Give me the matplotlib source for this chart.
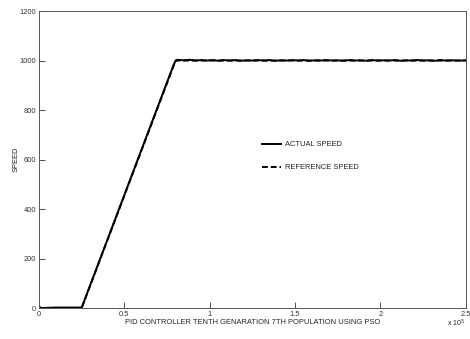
import matplotlib
matplotlib.use("Agg")
import matplotlib.pyplot as plt

# time axis in units of 1e5
ref_t = [0.0, 0.25, 0.80, 2.5]
ref_v = [0.0, 0.0, 1000.0, 1000.0]

act_t = [0.0, 0.005, 0.01, 0.02, 0.10, 0.25, 0.26, 0.79, 0.80, 0.81,
         0.85, 0.88, 0.92, 0.95, 0.98, 1.02, 1.05, 1.08, 1.12, 1.15,
         1.18, 1.22, 1.25, 1.28, 1.32, 1.35, 1.38, 1.42, 1.45, 1.48,
         1.52, 1.55, 1.58, 1.62, 1.65, 1.68, 1.72, 1.75, 1.78, 1.82,
         1.85, 1.88, 1.92, 1.95, 1.98, 2.02, 2.05, 2.08, 2.12, 2.15,
         2.18, 2.22, 2.25, 2.28, 2.32, 2.35, 2.38, 2.42, 2.45, 2.48, 2.5]
act_v = [0.0, 4.0, 1.0, 0.0, 2.0, 2.0, 20.0, 985.0, 998.0, 1003.0,
         1001.0, 1003.0, 1000.0, 1002.0, 1000.0, 1002.0, 999.0, 1002.0, 1000.0, 1002.0,
         999.0, 1001.0, 1000.0, 1002.0, 1000.0, 1002.0, 999.0, 1001.0, 1000.0, 1002.0,
         1000.0, 1002.0, 999.0, 1001.0, 1000.0, 1002.0, 1000.0, 1001.0, 999.0, 1002.0,
         1000.0, 1001.0, 999.0, 1002.0, 1000.0, 1001.0, 1000.0, 1002.0, 999.0, 1001.0,
         1000.0, 1002.0, 1000.0, 1001.0, 999.0, 1002.0, 1000.0, 1001.0, 1000.0, 1000.0, 1001.0]

x_ticks = [0, 0.5, 1, 1.5, 2, 2.5]
x_tick_labels = ["0", "0.5", "1", "1.5", "2", "2.5"]
y_ticks = [0, 200, 400, 600, 800, 1000, 1200]
y_tick_labels = ["0", "200", "400", "600", "800", "1000", "1200"]

plt.rcParams["font.family"] = ["Liberation Sans", "DejaVu Sans"]
FS = 5.4

fig = plt.figure(figsize=(4.70, 3.39), dpi=100)
ax = fig.add_axes([0.083, 0.0914, 0.908, 0.876])

ax.plot(act_t, act_v, color="black", lw=1.4, label="ACTUAL SPEED")
ax.plot(ref_t, ref_v, color="black", lw=1.4, ls=(0, (3, 1.5)), label="REFERENCE SPEED")

ax.set_xlim(0, 2.5)
ax.set_ylim(0, 1200)
ax.set_xticks(x_ticks)
ax.set_xticklabels(x_tick_labels)
ax.set_yticks(y_ticks)
ax.set_yticklabels(y_tick_labels)
ax.tick_params(direction="in", length=4, width=0.6, labelsize=FS, colors="#333333",
               top=False, right=False, pad=2)
for s in ax.spines.values():
    s.set_color("#555555")
    s.set_linewidth(0.7)

ax.set_xlabel("PID CONTROLLER TENTH GENARATION 7TH POPULATION USING PSO", fontsize=FS,
              color="#222222", labelpad=1)
ax.set_ylabel("SPEED", fontsize=FS, color="#222222")
ax.yaxis.set_label_coords(-0.045, 0.5)
ax.text(0.998, -0.032, r"x 10$^5$", transform=ax.transAxes, ha="right", va="top",
        fontsize=FS - 0.4, color="#222222")

leg = ax.legend(loc="upper left", bbox_to_anchor=(0.522, 0.562), frameon=False,
                fontsize=FS, handlelength=2.6, handletextpad=0.5, labelspacing=2.1,
                borderpad=0, borderaxespad=0)
for t in leg.get_texts():
    t.set_color("#222222")

fig.savefig("out.png", dpi=100)
